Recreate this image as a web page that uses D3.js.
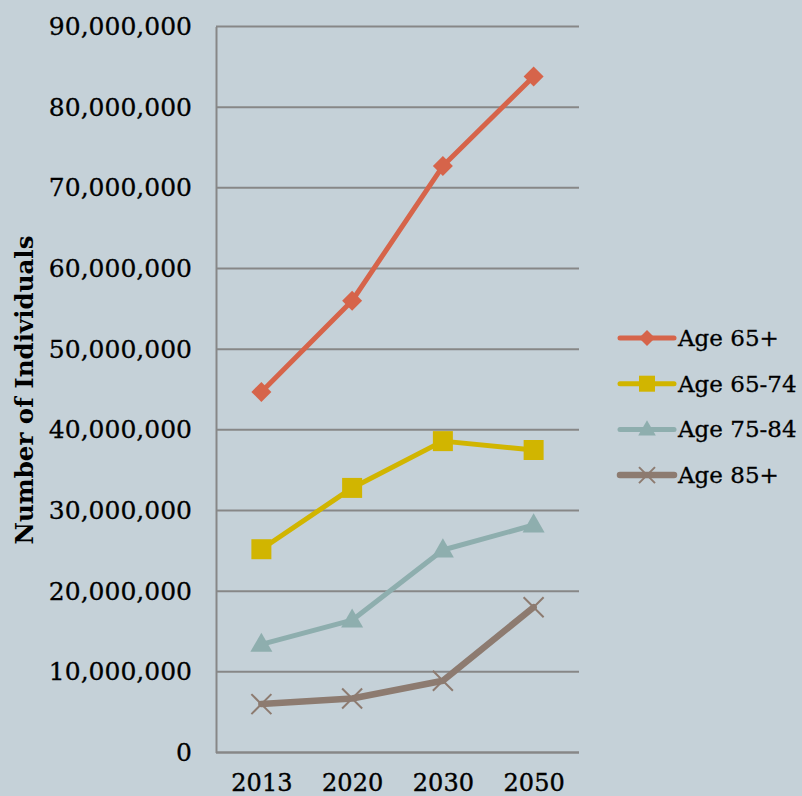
<!DOCTYPE html>
<html>
<head>
<meta charset="utf-8">
<script src="https://cdn.jsdelivr.net/npm/d3@7"></script>
<style>
  html, body { margin: 0; padding: 0; background: #c5d1d8; }
  svg { display: block; }
  text { font-family: "DejaVu Serif", "Liberation Serif", serif; fill: #000; }
</style>
</head>
<body>
<svg id="chart" width="802" height="796"></svg>
<script>
// Projected older population by year and age group
const years = ["2013", "2020", "2030", "2050"];
const age65plus  = [44700000, 56000000, 72700000, 83800000];
const age65to74  = [25200000, 32800000, 38600000, 37500000];
const age75to84  = [13400000, 16400000, 25100000, 28200000];
const age85plus  = [6000000, 6700000, 8900000, 18000000];
const yTicks = [0, 10000000, 20000000, 30000000, 40000000, 50000000, 60000000, 70000000, 80000000, 90000000];
const seriesNames = ["Age 65+", "Age 65-74", "Age 75-84", "Age 85+"];

const series = [
  { name: seriesNames[0], values: age65plus, color: "#d6644a", width: 5, symbol: "diamond" },
  { name: seriesNames[1], values: age65to74, color: "#d1b500", width: 5, symbol: "square" },
  { name: seriesNames[2], values: age75to84, color: "#8eaeae", width: 5, symbol: "triangle" },
  { name: seriesNames[3], values: age85plus, color: "#8d7b70", width: 6.5, symbol: "x" }
];

const svg = d3.select("#chart");
const plot = { left: 216, right: 579, top: 26.5, bottom: 752.5 };

const x = d3.scalePoint().domain(years).range([plot.left, plot.right]).padding(0.5);
const y = d3.scaleLinear().domain([0, 90000000]).range([plot.bottom, plot.top]);

// horizontal gridlines
svg.append("g")
  .selectAll("line")
  .data(yTicks)
  .join("line")
  .attr("x1", plot.left).attr("x2", plot.right)
  .attr("y1", d => y(d)).attr("y2", d => y(d))
  .attr("stroke", "#878787").attr("stroke-width", 2);

// y axis
const yAxis = svg.append("g")
  .attr("transform", `translate(${plot.left},0)`)
  .call(d3.axisLeft(y).tickValues(yTicks).tickSize(0).tickPadding(24)
    .tickFormat(d3.format(",")));
yAxis.select(".domain").attr("stroke", "#878787").attr("stroke-width", 2);
yAxis.selectAll("text").style("font-size", "25px").attr("font-family", null)
  .attr("stroke", "#000").attr("stroke-width", 0.3);

// x axis
const xAxis = svg.append("g")
  .attr("transform", `translate(0,${plot.bottom})`)
  .call(d3.axisBottom(x).tickSize(0).tickPadding(21));
xAxis.select(".domain").attr("stroke", "#878787").attr("stroke-width", 2)
  .attr("d", `M${plot.left},0H${plot.right}`);
xAxis.selectAll("text").style("font-size", "24px").attr("font-family", null)
  .attr("stroke", "#000").attr("stroke-width", 0.4);

// axis title
svg.append("text")
  .attr("transform", `translate(33,${390}) rotate(-90)`)
  .attr("text-anchor", "middle")
  .style("font-size", "24.5px")
  .style("font-weight", "bold")
  .text("Number of Individuals");

function symbolPath(kind, big) {
  const s = big ? 1 : 0.8;
  if (kind === "diamond") return d3.symbol(d3.symbolSquare, 200 * s * s)();
  if (kind === "square") return d3.symbol(d3.symbolSquare, 400 * s * s)();
  if (kind === "triangle") return d3.symbol(d3.symbolTriangle, 210 * s * s)();
  const r = 10 * s;
  return `M${-r},${-r}L${r},${r}M${-r},${r}L${r},${-r}`;
}

function drawMarker(g, d, big) {
  const p = g.append("path").attr("d", symbolPath(d.symbol, big));
  if (d.symbol === "x") {
    p.attr("fill", "none").attr("stroke", d.color).attr("stroke-width", 2);
  } else {
    p.attr("fill", d.color);
    if (d.symbol === "diamond") p.attr("transform", "rotate(45)");
    if (d.symbol === "triangle") p.attr("transform", "translate(0,1)");
  }
}

const line = d3.line().x((v, i) => x(years[i])).y(v => y(v));

// series lines and markers (drawn back to front)
const seriesG = svg.append("g");
[...series].reverse().forEach(d => {
  const g = seriesG.append("g");
  g.append("path")
    .attr("d", line(d.values))
    .attr("fill", "none")
    .attr("stroke", d.color)
    .attr("stroke-width", d.width)
    .attr("stroke-linejoin", "round")
    .attr("stroke-linecap", "round");
  d.values.forEach((v, i) => {
    const m = g.append("g").attr("transform", `translate(${x(years[i])},${y(v)})`);
    drawMarker(m, d, true);
  });
});

// legend
const legend = svg.append("g").attr("transform", "translate(620,338)");
series.forEach((d, i) => {
  const row = legend.append("g").attr("transform", `translate(0,${i * 45.7})`);
  row.append("line")
    .attr("x1", 0).attr("x2", 54)
    .attr("stroke", d.color)
    .attr("stroke-width", d.width)
    .attr("stroke-linecap", "round");
  const m = row.append("g").attr("transform", "translate(27,0)");
  drawMarker(m, d, false);
  row.append("text")
    .attr("x", 58).attr("y", 0).attr("dy", "0.35em")
    .style("font-size", "23px")
    .attr("stroke", "#000").attr("stroke-width", 0.3)
    .text(d.name);
});
</script>
</body>
</html>
